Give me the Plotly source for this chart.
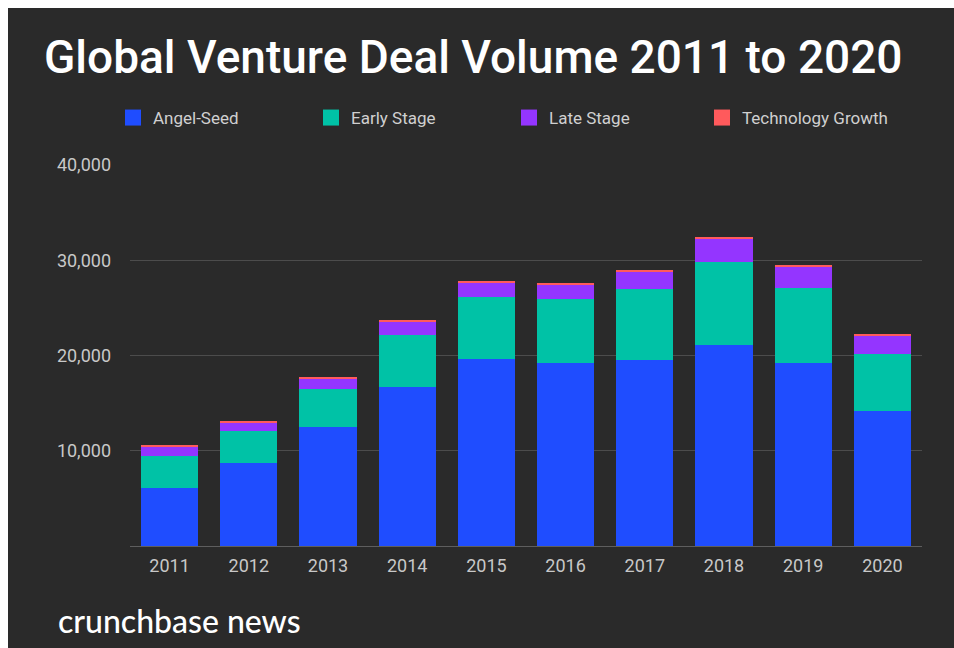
import plotly.graph_objects as go

# Deal counts by stage, 2011-2020
years = ["2011", "2012", "2013", "2014", "2015", "2016", "2017", "2018", "2019", "2020"]
angel_seed = [6100, 8700, 12500, 16700, 19610, 19190, 19500, 21080, 19190, 14180]
early_stage = [3300, 3330, 4030, 5470, 6570, 6780, 7520, 8740, 7860, 5960]
late_stage = [950, 880, 1050, 1330, 1430, 1470, 1750, 2390, 2240, 1940]
tech_growth = [220, 210, 210, 210, 210, 210, 180, 210, 210, 210]

y_ticks = [10000, 20000, 30000, 40000]

series = [
    ("Angel-Seed", angel_seed, "#1f4dff"),
    ("Early Stage", early_stage, "#00c2a6"),
    ("Late Stage", late_stage, "#9435ff"),
    ("Technology Growth", tech_growth, "#ff5a5c"),
]

W, H = 954, 648
L, R, T, B = 130, 32, 165, 102
PW, PH = W - L - R, H - T - B


def px_x(px):
    return (px - L) / PW


def px_y(py):
    return (H - B - py) / PH


BG = "#2a2a2a"
LEGEND_FONT = dict(family="Roboto", size=17, color="#d0d0d0")
# left edge of each legend entry, in pixels
legend_left = [113, 311, 509, 702]

fig = go.Figure()
for name, vals, color in series:
    fig.add_trace(go.Bar(
        x=years, y=vals, name=name, showlegend=False,
        marker=dict(color=color, line=dict(width=0)),
    ))

# legend entries with larger square swatches, one legend box per entry
legend_layouts = {}
for i, (name, vals, color) in enumerate(series):
    key = "legend" if i == 0 else f"legend{i + 1}"
    fig.add_trace(go.Scatter(
        x=[None], y=[None], name=name, mode="markers", legend=key,
        marker=dict(symbol="square", size=16, color=color, line=dict(width=0)),
    ))
    legend_layouts[key] = dict(
        orientation="h",
        x=px_x(legend_left[i]), xanchor="left",
        y=px_y(118), yanchor="middle",
        font=LEGEND_FONT, bgcolor="rgba(0,0,0,0)",
    )

fig.update_layout(
    width=W, height=H,
    margin=dict(l=L, r=R, t=T, b=B),
    paper_bgcolor="white",
    plot_bgcolor="rgba(0,0,0,0)",
    barmode="stack",
    bargap=0.28,
    showlegend=True,
    xaxis=dict(
        showgrid=False, showline=False, zeroline=False,
        tickfont=dict(family="Roboto", size=18, color="#c8c8c8"),
        ticks="", ticklabelstandoff=7,
    ),
    yaxis=dict(
        range=[0, 40000], tickvals=y_ticks, tickformat=",",
        showgrid=True, gridcolor="#4c4c4c", gridwidth=1,
        zeroline=True, zerolinecolor="#5e5e5e", zerolinewidth=1,
        showline=False, ticks="", ticklabelstandoff=18,
        tickfont=dict(family="Roboto", size=18, color="#c8c8c8"),
    ),
    shapes=[
        dict(type="rect", xref="paper", yref="paper", layer="below",
             x0=px_x(8), x1=px_x(W), y0=px_y(H), y1=px_y(8),
             fillcolor=BG, line=dict(width=0)),
    ],
    annotations=[
        dict(text="Global Venture Deal Volume 2011 to 2020",
             xref="paper", yref="paper", x=px_x(42), y=px_y(57),
             xanchor="left", yanchor="middle", showarrow=False,
             font=dict(family="Roboto", size=46, color="white", weight=500)),
        dict(text="crunchbase news",
             xref="paper", yref="paper", x=px_x(56), y=px_y(620),
             xanchor="left", yanchor="middle", showarrow=False,
             font=dict(family="Lato", size=32, color="white", weight=500)),
    ],
    **legend_layouts,
)

fig.write_html("out.html")
